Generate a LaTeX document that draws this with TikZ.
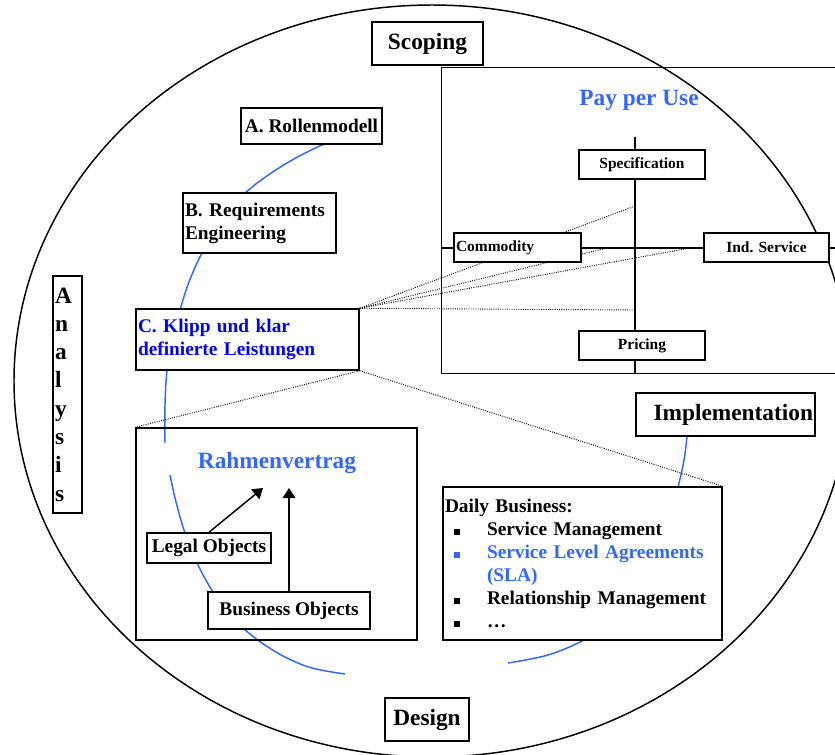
\documentclass[tikz,border=0pt]{standalone}
\usepackage{fontspec}
\setmainfont{Liberation Serif}
\usetikzlibrary{arrows.meta,backgrounds}
\definecolor{ppublue}{RGB}{51,102,255}
\definecolor{klippblue}{RGB}{0,0,255}
\newcommand{\fbig}{\fontsize{17.5}{21.2}\selectfont\bfseries}
\newcommand{\fmed}{\fontsize{14.5}{17.25}\selectfont\bfseries}
\newcommand{\fsmall}{\fontsize{11.6}{14}\selectfont\bfseries}
\newcommand{\blt}[1][black]{\hspace*{6.75pt}\textcolor{#1}{\rule[0.5pt]{4.5pt}{4.5pt}}\hspace*{20.25pt}}

\tikzset{every picture/.style={line width=0.75pt}}

\begin{document}
\begin{tikzpicture}[x=0.75pt,y=0.75pt,yscale=-1,xscale=1,
  box/.style={draw, fill=white, line width=1.1pt, inner sep=1.5pt},
  frame/.style={draw, line width=1.1pt, inner sep=0pt},
  axis/.style={line width=1.4pt},
  bluearc/.style={color=ppublue, line width=1.1pt},
  link/.style={densely dotted, line width=0.7pt},
  arr/.style={line width=1.1pt, -{Triangle[length=7.5pt,width=9.5pt]}}]
\useasboundingbox (0,0) rectangle (835,754);
\clip (0,0) rectangle (835,754);

% Phases
\node[box, font=\fbig, minimum width=83.25pt, minimum height=32.25pt] (scoping) at (427.5,43.5) {Scoping};
\node[box, font=\fbig, text width=131.25pt, align=right, minimum height=32.25pt] (impl) at (725.5,414.5) {Implementation};
\node[box, font=\fbig, minimum width=63pt, minimum height=32.25pt] (design) at (427,719.5) {Design};
\node[box, font=\fbig, text width=18.75pt, align=left, minimum height=177.75pt] (analysis) at (67.5,394.5) {A\\n\\a\\l\\y\\s\\i\\s};

% Steps A, B, C
\node[box, font=\fmed, minimum width=105.75pt, minimum height=27pt] (rollen) at (311.5,126) {A. Rollenmodell};
\node[box, font=\fmed, text width=111.75pt, align=left, minimum height=45pt] (reqeng) at (259.5,223) {B. Requirements\\Engineering};
\node[box, font=\fmed, text width=164.25pt, align=left, minimum height=45.75pt, text=klippblue] (klipp) at (247.5,339.5) {C. Klipp und klar\\definierte Leistungen};

% Pay per Use
\node[frame, anchor=north west, minimum width=303pt, minimum height=229.5pt] (payuse) at (441,67) {};
\node[font=\fbig, text=ppublue] (ppu) at (639,100) {Pay per Use};
\node[box, font=\fsmall, minimum width=94.5pt, minimum height=21.75pt] (spec) at (642,164.5) {Specification};
\node[box, font=\fsmall, minimum width=94.5pt, minimum height=21.75pt] (pricing) at (642,345.5) {Pricing};
\node[box, font=\fsmall, text width=92.25pt, align=left, minimum height=21.75pt] (commod) at (517.5,247.5) {Commodity};
\node[box, font=\fsmall, minimum width=93.75pt, minimum height=21.75pt] (indserv) at (766.5,247.5) {Ind. Service};
\coordinate (axtop) at (635,137);
\coordinate (axbot) at (635,373);
\coordinate (axleft) at (441,248);
\coordinate (axright) at (845,248);
\coordinate (t1) at (635,206);
\coordinate (t2) at (607,248);
\coordinate (t3) at (690,248);
\coordinate (t4) at (635,310);

% Rahmenvertrag
\node[frame, minimum width=210.75pt, minimum height=159pt] (rahmen) at (276.5,534) {};
\node[font=\fbig, text=ppublue] (rvlabel) at (277,463) {Rahmenvertrag};
\node[box, font=\fmed, minimum width=93pt, minimum height=22.5pt] (legal) at (209,548) {Legal Objects};
\node[box, font=\fmed, minimum width=121.5pt, minimum height=27.75pt] (busobj) at (289,610.5) {Business Objects};
\coordinate (ra1) at (263,488);
\coordinate (ra2) at (289,488);
\draw[arr] (legal.north) -- (ra1);
\draw[arr] (busobj.north) -- (ra2);

% Daily Business
\node[box, font=\fmed, text width=206.25pt, align=left, minimum height=114.75pt] (daily) at (582.5,563.5) {Daily Business:\\
\blt Service Management\\
\blt[ppublue]\textcolor{ppublue}{Service Level Agreements}\\
\hspace*{31.5pt}\textcolor{ppublue}{(SLA)}\\
\blt Relationship Management\\
\blt \dots};

\begin{scope}[on background layer]
%Shape: Ellipse
\draw[line width=1.1pt] (432,381) ellipse [x radius=418, y radius=376];
%Blue arc
\draw[bluearc] plot[smooth, tension=0.6] coordinates {(372,134) (345,139) (322,145) (282,166) (245,193) (222,220) (202,253) (189,282) (180,310) (172,340) (167,370) (165,405) (165,443)};
\draw[bluearc] plot[smooth, tension=0.6] coordinates {(170,475) (176,502) (185,533) (197,563) (213,592) (228,612) (243,628) (262,643) (285,657) (312,668) (345,674)};
\draw[bluearc] plot[smooth, tension=0.6] coordinates {(600,628) (582,641) (548,655) (508,663)};
\draw[bluearc] plot[smooth, tension=0.6] coordinates {(672,505) (678,487) (684,460) (687,436) (688,420)};
%Axes
\draw[axis] (axtop) -- (axbot);
\draw[axis] (axleft) -- (axright);
%Dotted links
\draw[link] (klipp.north east) -- (t1);
\draw[link] (klipp.north east) -- (t2);
\draw[link] (klipp.north east) -- (t3);
\draw[link] (klipp.north east) -- (t4);
\draw[link] (klipp.south east) -- (rahmen.north west);
\draw[link] (klipp.south east) -- (daily.north east);
\end{scope}

\end{tikzpicture}
\end{document}
